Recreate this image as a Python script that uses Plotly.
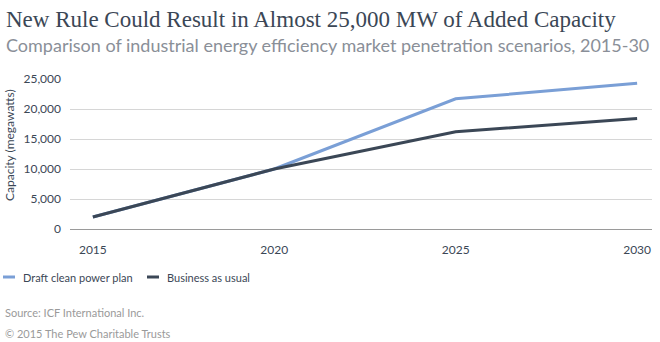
import plotly.graph_objects as go

# Market penetration scenarios (megawatts)
years = [2015, 2020, 2025, 2030]
draft_clean_power_plan = [2000, 10000, 21700, 24300]
business_as_usual = [2000, 10000, 16200, 18400]
y_ticks = [0, 5000, 10000, 15000, 20000, 25000]
y_tick_labels = ["0", "5,000", "10,000", "15,000", "20,000", "25,000"]
series_names = ["Draft clean power plan", "Business as usual"]

BLUE = "#7a9fd6"
DARK = "#3b4756"
TEXT = "#3b4756"
GREY = "#9a9a9a"

W, H = 660, 342
L, R, T, B = 70, 8, 79, 113

fig = go.Figure()
fig.add_trace(go.Scatter(x=years, y=draft_clean_power_plan, mode="lines",
                         name=series_names[0], line=dict(color=BLUE, width=3)))
fig.add_trace(go.Scatter(x=years, y=business_as_usual, mode="lines",
                         name=series_names[1], line=dict(color=DARK, width=3)))

fig.update_layout(
    width=W, height=H,
    margin=dict(l=L, r=R, t=T, b=B),
    paper_bgcolor="white", plot_bgcolor="white",
    font=dict(family="Lato", size=12, color=TEXT),
    showlegend=False,
    xaxis=dict(range=[2014.37, 2030.41], tickvals=years, ticktext=[str(y) for y in years],
               showgrid=False, zeroline=False, showline=False, ticks="",
               ticklabelstandoff=12, tickfont=dict(size=12, color=TEXT)),
    yaxis=dict(range=[0, 25000], tickvals=y_ticks, ticktext=y_tick_labels,
               showgrid=True, gridcolor="#d6d6d6", gridwidth=1,
               zeroline=True, zerolinecolor="#9a9a9a", zerolinewidth=1,
               showline=False, ticks="", ticklabelstandoff=8,
               tickfont=dict(size=12, color=TEXT)),
)

# helpers to place things in pixel positions of the page
def px_x(x):
    return (x - L) / (W - L - R)

def px_y(y):
    return 1 - (y - T) / (H - T - B)

# y-axis title
fig.add_annotation(text="Capacity (megawatts)", textangle=-90,
                   xref="paper", yref="paper", x=px_x(9), y=px_y(145),
                   xanchor="center", yanchor="middle", showarrow=False,
                   font=dict(family="Lato", size=12, color=TEXT))

# headline and subtitle
fig.add_annotation(text="New Rule Could Result in Almost 25,000 MW of Added Capacity",
                   xref="paper", yref="paper", x=px_x(4), y=px_y(19), xanchor="left", yanchor="middle",
                   showarrow=False, font=dict(family="Liberation Serif", size=23, color=TEXT))
fig.add_annotation(text="Comparison of industrial energy efficiency market penetration scenarios, 2015-30",
                   xref="paper", yref="paper", x=px_x(4), y=px_y(45), xanchor="left", yanchor="middle",
                   showarrow=False, font=dict(family="Lato", size=18, color="#8a8f98"))

# legend: short line swatch followed by the series name
legend_items = [(series_names[0], BLUE, 3, 21), (series_names[1], DARK, 147, 165)]
for name, color, sx, tx in legend_items:
    fig.add_shape(type="line", xref="paper", yref="paper",
                  x0=px_x(sx), x1=px_x(sx + 12), y0=px_y(277), y1=px_y(277),
                  line=dict(color=color, width=3))
    fig.add_annotation(text=name, xref="paper", yref="paper", x=px_x(tx), y=px_y(277),
                       xanchor="left", yanchor="middle", showarrow=False,
                       font=dict(family="Lato", size=11, color=TEXT))

# notes
fig.add_annotation(text="Source: ICF International Inc.",
                   xref="paper", yref="paper", x=px_x(3), y=px_y(312), xanchor="left", yanchor="middle",
                   showarrow=False, font=dict(family="Lato", size=11, color=GREY))
fig.add_annotation(text="© 2015 The Pew Charitable Trusts",
                   xref="paper", yref="paper", x=px_x(3), y=px_y(333), xanchor="left", yanchor="middle",
                   showarrow=False, font=dict(family="Lato", size=11, color=GREY))

fig.write_html("out.html")
